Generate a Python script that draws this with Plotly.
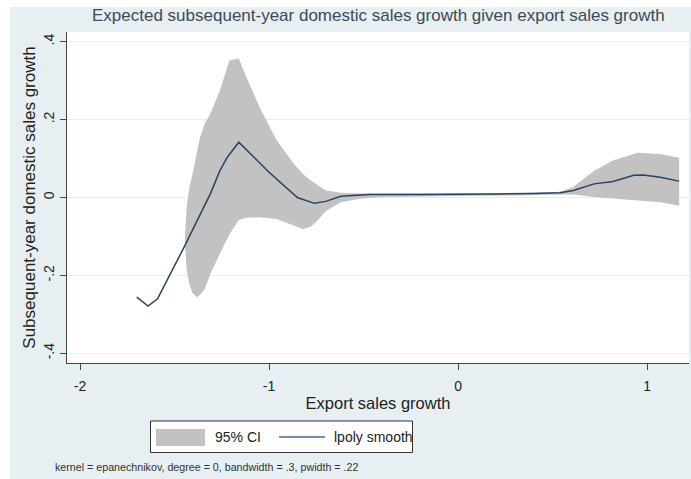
import plotly.graph_objects as go

# ---- data ----
line_x = [-1.70, -1.64, -1.59, -1.45, -1.31, -1.26, -1.22, -1.16, -1.00, -0.85,
          -0.76, -0.70, -0.62, -0.47, -0.20, 0.00, 0.20, 0.40, 0.54, 0.61,
          0.72, 0.82, 0.93, 0.98, 1.07, 1.17]
line_y = [-0.256, -0.279, -0.260, -0.128, 0.010, 0.069, 0.104, 0.142, 0.065, 0.000,
          -0.015, -0.010, 0.003, 0.008, 0.008, 0.008, 0.009, 0.010, 0.012, 0.018,
          0.035, 0.041, 0.057, 0.058, 0.052, 0.042]

ci_x = [-1.445, -1.435, -1.42, -1.405, -1.38, -1.365, -1.34, -1.31, -1.26, -1.21,
        -1.16, -1.12, -1.05, -0.96, -0.87, -0.82, -0.78, -0.75, -0.70, -0.62,
        -0.52, -0.40, 0.00, 0.30, 0.54, 0.61, 0.72, 0.82, 0.95, 1.07, 1.17]
ci_hi = [-0.10, -0.02, 0.03, 0.06, 0.12, 0.155, 0.19, 0.216, 0.275, 0.352,
         0.357, 0.309, 0.232, 0.147, 0.087, 0.060, 0.044, 0.035, 0.018, 0.012,
         0.010, 0.010, 0.010, 0.011, 0.015, 0.027, 0.069, 0.095, 0.115, 0.112, 0.102]
ci_lo = [-0.12, -0.19, -0.225, -0.245, -0.256, -0.250, -0.235, -0.196, -0.144, -0.095,
         -0.058, -0.052, -0.051, -0.055, -0.072, -0.081, -0.075, -0.063, -0.035, -0.012,
         -0.003, 0.001, 0.004, 0.005, 0.008, 0.008, 0.001, -0.003, -0.007, -0.012, -0.021]

x_ticks = [-2, -1, 0, 1]
x_tick_text = ["-2", "-1", "0", "1"]
y_ticks = [-0.4, -0.2, 0, 0.2, 0.4]
y_tick_text = ["-.4", "-.2", "0", ".2", ".4"]

title_text = "Expected subsequent-year domestic sales growth given export sales growth"
x_title = "Export sales growth"
y_title = "Subsequent-year domestic sales growth"
legend_labels = ["95% CI", "lpoly smooth"]
note_text = "kernel = epanechnikov, degree = 0, bandwidth = .3, pwidth = .22"

# ---- styling ----
W, H = 691, 479
L, R, T, B = 67, 2, 32, 116
PW, PH = W - L - R, H - T - B
BG = "#E7EFF2"
CI_COL = "#C2C2C2"
LINE_COL = "#2A4262"
FONT = "Liberation Sans"


def px(xp):
    return (xp - L) / PW


def py(yp):
    return (H - B - yp) / PH


fig = go.Figure()
fig.add_trace(go.Scatter(x=ci_x, y=ci_lo, mode="lines", line=dict(width=0),
                         hoverinfo="skip", showlegend=False))
fig.add_trace(go.Scatter(x=ci_x, y=ci_hi, mode="lines", line=dict(width=0),
                         fill="tonexty", fillcolor=CI_COL, name=legend_labels[0],
                         showlegend=False))
fig.add_trace(go.Scatter(x=line_x, y=line_y, mode="lines",
                         line=dict(color=LINE_COL, width=1.5),
                         name=legend_labels[1], showlegend=False))

shapes = [
    dict(type="rect", xref="paper", yref="paper", x0=px(10), x1=px(W + 5),
         y0=py(H + 5), y1=py(7), fillcolor=BG, line=dict(width=0), layer="below"),
    dict(type="rect", xref="paper", yref="paper", x0=0, x1=1, y0=0, y1=1,
         fillcolor="white", line=dict(width=0), layer="below"),
    # legend box
    dict(type="rect", xref="paper", yref="paper", x0=px(150.5), x1=px(412.5),
         y0=py(452.5), y1=py(421), fillcolor="white",
         line=dict(color="#333333", width=1)),
    dict(type="rect", xref="paper", yref="paper", x0=px(156), x1=px(205),
         y0=py(446), y1=py(429), fillcolor=CI_COL, line=dict(width=0)),
    dict(type="line", xref="paper", yref="paper", x0=px(279), x1=px(325),
         y0=py(437), y1=py(437), line=dict(color="#4A6A90", width=1.3)),
]

annotations = [
    dict(text=title_text, xref="paper", yref="paper", x=px(378), y=py(15),
         showarrow=False, font=dict(family=FONT, size=17, color="#404A56"),
         xanchor="center", yanchor="middle"),
    dict(text=legend_labels[0], xref="paper", yref="paper", x=px(213), y=py(437),
         showarrow=False, font=dict(family=FONT, size=14, color="#222222"),
         xanchor="left", yanchor="middle"),
    dict(text=legend_labels[1], xref="paper", yref="paper", x=px(332), y=py(437),
         showarrow=False, font=dict(family=FONT, size=14, color="#222222"),
         xanchor="left", yanchor="middle"),
    dict(text=note_text, xref="paper", yref="paper", x=px(53), y=py(467),
         showarrow=False, font=dict(family=FONT, size=10.7, color="#333333"),
         xanchor="left", yanchor="middle"),
]

fig.update_layout(
    width=W, height=H,
    margin=dict(l=L, r=R, t=T, b=B, pad=0),
    paper_bgcolor="white",
    plot_bgcolor="rgba(0,0,0,0)",
    showlegend=False,
    shapes=shapes,
    annotations=annotations,
    font=dict(family=FONT, size=14, color="#222222"),
)

fig.update_xaxes(
    range=[-2.069, 1.222], tickvals=x_ticks, ticktext=x_tick_text,
    showgrid=False, zeroline=False,
    showline=True, linecolor="#444444", linewidth=1.3,
    ticks="outside", ticklen=6, tickcolor="#444444",
    ticklabelstandoff=4,
    tickfont=dict(family=FONT, size=14, color="#222222"),
    title=dict(text=x_title, font=dict(family=FONT, size=16.5, color="#222222"), standoff=4),
)
fig.update_yaxes(
    range=[-0.425, 0.425], tickvals=y_ticks, ticktext=y_tick_text,
    showgrid=True, gridcolor="#E7EFF2", gridwidth=1, zeroline=False,
    showline=True, linecolor="#444444", linewidth=1.3,
    ticks="outside", ticklen=6, tickcolor="#444444", tickangle=-90,
    tickfont=dict(family=FONT, size=14, color="#222222"),
    title=dict(text=y_title, font=dict(family=FONT, size=17, color="#222222"), standoff=1),
)

fig.write_html("out.html", config={"displayModeBar": False},
               post_script="document.body.style.margin='0';document.body.style.padding='0';")
